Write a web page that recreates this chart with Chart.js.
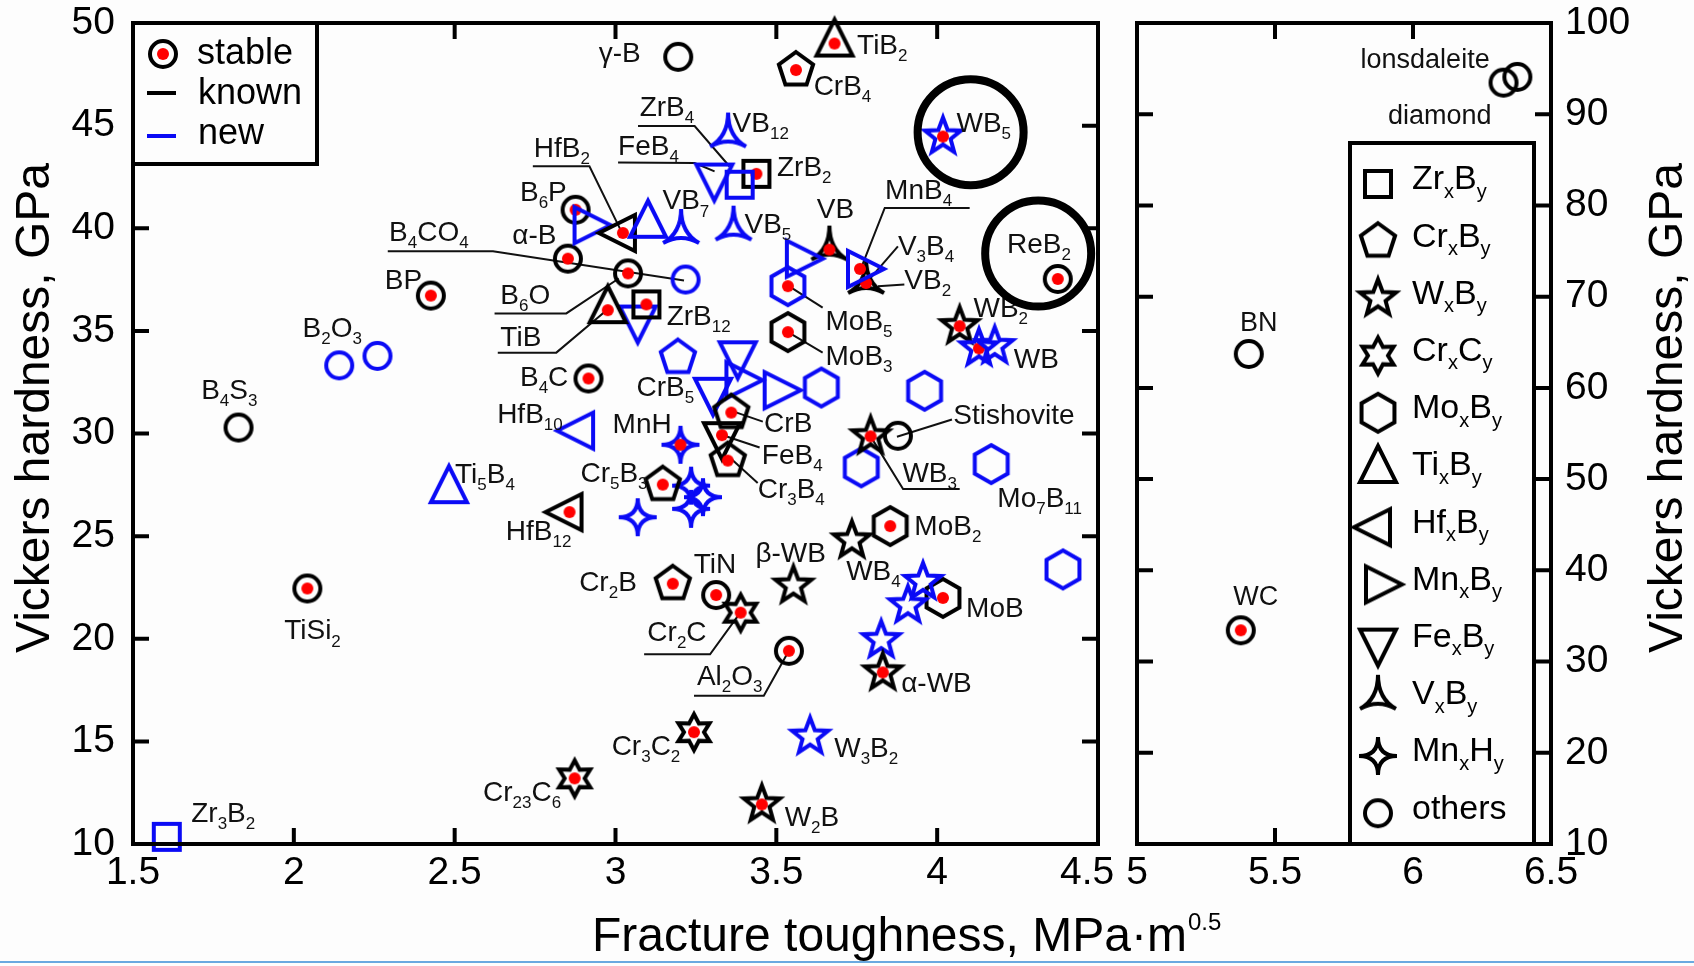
<!DOCTYPE html>
<html>
<head>
<meta charset="utf-8">
<title>Vickers hardness vs fracture toughness</title>
<script src="https://cdn.jsdelivr.net/npm/chart.js@4.4.1/dist/chart.umd.min.js"></script>
<style>
  html, body { margin: 0; background: #fdfdfd; }
  #wrap { position: relative; width: 1694px; height: 966px; overflow: hidden; }
  #wrap canvas { position: absolute; left: 0; top: 0; }
  #edge { position: absolute; left: 0; width: 1694px; top: 961px; height: 2px; background: #6aa9e0; }
</style>
</head>
<body>
<div id="wrap">
  <canvas id="panelLeft" width="1694" height="966"></canvas>
  <canvas id="panelRight" width="1694" height="966"></canvas>
  <div id="edge"></div>
</div>
<script>
const FONT = '"Liberation Sans", Arial, Helvetica, sans-serif';
const BLACK = '#000000';
const BLUE = '#0a0af5';
const RED = '#ff0000';
const BG = '#fdfdfd';

// [name, fracture toughness (MPa·m^0.5), Vickers hardness (GPa), new?, stable?]
const zrB = [
  ['ZrB2', 3.438, 42.65, 0, 1],
  ['ZrB4', 3.386, 42.12, 1, 0],
  ['ZrB12', 3.096, 36.29, 0, 1],
  ['Zr3B2', 1.605, 10.35, 1, 0],
];
const crB = [
  ['CrB4', 3.561, 47.71, 0, 1],
  ['CrB5', 3.194, 33.70, 1, 0],
  ['CrB', 3.360, 31.02, 0, 1],
  ['Cr3B4', 3.349, 28.68, 0, 1],
  ['Cr5B3', 3.147, 27.51, 0, 1],
  ['Cr2B', 3.178, 22.68, 0, 1],
];
const wB = [
  ['WB5', 4.018, 44.47, 1, 1],
  ['WB2', 4.070, 35.23, 0, 1],
  ['WB', 4.130, 34.15, 1, 1],
  ['', 4.179, 34.26, 1, 0],
  ['WB3', 3.793, 29.86, 0, 1],
  ['WB4', 3.735, 24.79, 0, 0],
  ['β-WB', 3.553, 22.59, 0, 0],
  ['', 3.956, 22.77, 1, 0],
  ['', 3.909, 21.63, 1, 0],
  ['', 3.826, 19.93, 1, 0],
  ['α-WB', 3.831, 18.36, 0, 1],
  ['W3B2', 3.605, 15.23, 1, 0],
  ['W2B', 3.455, 11.93, 0, 1],
];
const crC = [
  ['Cr2C', 3.389, 21.27, 0, 1],
  ['Cr3C2', 3.244, 15.45, 0, 1],
  ['Cr23C6', 2.873, 13.20, 0, 1],
];
const moB = [
  ['MoB5', 3.536, 37.18, 1, 1],
  ['MoB3', 3.536, 34.94, 0, 1],
  ['', 3.640, 32.24, 1, 0],
  ['', 3.961, 32.08, 1, 0],
  ['', 3.764, 28.35, 1, 0],
  ['Mo7B11', 4.168, 28.51, 1, 0],
  ['MoB2', 3.854, 25.49, 0, 1],
  ['MoB', 4.018, 21.99, 0, 1],
  ['', 4.391, 23.38, 1, 0],
];
const tiB = [
  ['TiB2', 3.681, 49.00, 0, 1],
  ['', 3.101, 40.17, 1, 0],
  ['TiB', 2.976, 36.01, 0, 1],
  ['Ti5B4', 2.482, 27.24, 1, 0],
];
const hfB = [
  ['HfB2', 3.023, 39.77, 0, 1],
  ['HfB10', 2.893, 30.14, 1, 0],
  ['HfB12', 2.857, 26.17, 0, 1],
];
const mnB = [
  ['', 2.910, 40.15, 1, 0],
  ['', 3.570, 38.52, 1, 0],
  ['MnB4', 3.760, 38.02, 1, 1],
  ['', 3.382, 32.60, 1, 0],
  ['', 3.501, 32.11, 1, 0],
];
const feB = [
  ['FeB4', 3.307, 42.52, 1, 0],
  ['', 3.069, 35.60, 1, 0],
  ['', 3.380, 33.86, 1, 0],
  ['', 3.303, 32.08, 1, 0],
  ['FeB4', 3.331, 29.92, 0, 1],
];
const vB = [
  ['VB12', 3.350, 44.47, 1, 0],
  ['VB7', 3.204, 39.77, 1, 0],
  ['VB5', 3.367, 39.93, 1, 0],
  ['VB', 3.665, 38.96, 0, 1],
  ['V3B4', 3.779, 37.33, 0, 1],
];
const mnH = [
  ['MnH', 3.202, 29.45, 1, 1],
  ['', 3.235, 27.46, 1, 0],
  ['', 3.272, 26.90, 1, 0],
  ['', 3.235, 26.33, 1, 0],
  ['', 3.069, 25.92, 1, 0],
];
const others = [
  ['γ-B', 3.195, 48.35, 0, 0],
  ['B6P', 2.876, 40.90, 0, 1],
  ['α-B', 2.852, 38.52, 0, 1],
  ['B6O', 3.039, 37.80, 0, 1],
  ['B4CO4', 3.218, 37.50, 1, 0],
  ['BP', 2.426, 36.72, 0, 1],
  ['B2O3', 2.141, 33.32, 1, 0],
  ['B2O3', 2.260, 33.78, 1, 0],
  ['B4S3', 1.828, 30.29, 0, 0],
  ['B4C', 2.916, 32.68, 0, 1],
  ['TiSi2', 2.042, 22.45, 0, 1],
  ['TiN', 3.313, 22.13, 0, 1],
  ['Al2O3', 3.539, 19.41, 0, 1],
  ['Stishovite', 3.878, 29.89, 0, 0],
  ['ReB2', 4.375, 37.53, 0, 1],
];
// superhard materials, right panel
const superhard = [
  ['diamond', 6.328, 93.46, 0, 0],
  ['lonsdaleite', 6.378, 94.09, 0, 0],
  ['BN', 5.405, 63.72, 0, 0],
  ['WC', 5.376, 33.43, 0, 1],
];

const families = [
  ['Zr_xB_y', 'square', zrB],
  ['Cr_xB_y', 'pentagon', crB],
  ['W_xB_y', 'star5', wB],
  ['Cr_xC_y', 'star6', crC],
  ['Mo_xB_y', 'hexagon', moB],
  ['Ti_xB_y', 'triUp', tiB],
  ['Hf_xB_y', 'triLeft', hfB],
  ['Mn_xB_y', 'triRight', mnB],
  ['Fe_xB_y', 'triDown', feB],
  ['V_xB_y', 'triStar', vB],
  ['Mn_xH_y', 'star4', mnH],
  ['others', 'circle', others],
];

// text annotations: [text, x, y] in axis units, "_" marks a subscript
const labelsLeft = [
  ['γ-B', 2.948, 48.48], ['TiB_2', 3.751, 48.85], ['CrB_4', 3.616, 46.85],
  ['WB_5', 4.060, 45.07], ['ZrB_4', 3.075, 45.85], ['VB_12', 3.364, 45.07],
  ['FeB_4', 3.008, 43.96], ['ZrB_2', 3.502, 42.91], ['HfB_2', 2.746, 43.86],
  ['B_6P', 2.703, 41.71], ['VB_7', 3.146, 41.29], ['VB_5', 3.401, 40.13],
  ['B_4CO_4', 2.296, 39.76], ['α-B', 2.679, 39.61], ['VB', 3.626, 40.87],
  ['MnB_4', 3.838, 41.81], ['V_3B_4', 3.878, 39.08], ['VB_2', 3.898, 37.40],
  ['ReB_2', 4.217, 39.19], ['BP', 2.283, 37.40], ['B_6O', 2.642, 36.67],
  ['TiB', 2.642, 34.62], ['ZrB_12', 3.159, 35.67], ['MoB_5', 3.653, 35.41],
  ['MoB_3', 3.653, 33.73], ['WB_2', 4.113, 36.04], ['WB', 4.238, 33.57],
  ['B_2O_3', 2.027, 35.09], ['CrB_5', 3.065, 32.20], ['B_4C', 2.703, 32.68],
  ['B_4S_3', 1.712, 32.05], ['HfB_10', 2.632, 30.89], ['MnH', 2.991, 30.42],
  ['CrB', 3.462, 30.47], ['FeB_4', 3.455, 28.90], ['Cr_3B_4', 3.442, 27.22],
  ['Stishovite', 4.050, 30.84], ['WB_3', 3.892, 28.00], ['Mo_7B_11', 4.187, 26.80],
  ['Ti_5B_4', 2.501, 27.95], ['Cr_5B_3', 2.891, 28.00], ['HfB_12', 2.659, 25.17],
  ['MoB_2', 3.929, 25.43], ['WB_4', 3.717, 23.23], ['β-WB', 3.435, 24.12],
  ['TiN', 3.243, 23.60], ['Cr_2B', 2.887, 22.70], ['MoB', 4.090, 21.44],
  ['TiSi_2', 1.970, 20.34], ['Cr_2C', 3.099, 20.29], ['Al_2O_3', 3.253, 18.14],
  ['α-WB', 3.888, 17.77], ['Cr_3C_2', 2.988, 14.72], ['W_3B_2', 3.680, 14.62],
  ['Cr_23C_6', 2.588, 12.47], ['W_2B', 3.526, 11.26], ['Zr_3B_2', 1.681, 11.47],
];
const labelsRight = [
  ['lonsdaleite', 5.810, 95.92], ['diamond', 5.909, 89.71],
  ['BN', 5.373, 67.09], ['WC', 5.349, 36.97],
];
// leader lines as polylines in axis units
const leadersLeft = [
  [3.070, 44.98, 3.246, 44.98, 3.354, 43.02],
  [3.008, 43.20, 3.246, 43.18, 3.308, 42.77],
  [2.743, 43.02, 2.919, 43.02, 3.018, 39.85],
  [2.292, 38.88, 2.619, 38.88, 3.213, 37.45],
  [4.101, 40.99, 3.837, 40.99, 3.761, 37.96],
  [3.878, 39.12, 3.779, 37.33],
  [3.898, 37.26, 3.816, 37.18],
  [2.624, 35.85, 2.847, 35.85, 3.010, 37.55],
  [2.634, 33.94, 2.816, 33.94, 2.976, 36.05],
  [3.539, 37.18, 3.644, 36.13],
  [3.539, 34.91, 3.644, 33.94],
  [3.361, 31.10, 3.458, 30.58],
  [3.327, 29.95, 3.448, 29.32],
  [3.361, 28.74, 3.442, 27.59],
  [3.875, 29.84, 4.046, 30.68],
  [3.795, 29.81, 3.894, 27.30, 4.070, 27.30],
  [3.089, 19.24, 3.294, 19.24, 3.388, 21.27],
  [3.244, 17.22, 3.461, 17.22, 3.539, 19.41],
];
// emphasis rings around WB5 and ReB2: [x, y]
const rings = [[4.104, 44.68], [4.314, 38.77]];

const TICK = 16;

function poly(g, n, r, rot) {
  for (let i = 0; i < n; i++) {
    const a = (rot + i * 360 / n) * Math.PI / 180;
    if (i) g.lineTo(r * Math.cos(a), r * Math.sin(a));
    else g.moveTo(r * Math.cos(a), r * Math.sin(a));
  }
  g.closePath();
}

function star(g, n, r1, r2) {
  for (let i = 0; i < 2 * n; i++) {
    const a = (-90 + i * 180 / n) * Math.PI / 180;
    const r = i % 2 ? r2 : r1;
    if (i) g.lineTo(r * Math.cos(a), r * Math.sin(a));
    else g.moveTo(r * Math.cos(a), r * Math.sin(a));
  }
  g.closePath();
}

// closed outline through the tips, sides bent in toward the centre
function cusp(g, pts, k) {
  g.moveTo(pts[0][0], pts[0][1]);
  for (let i = 1; i <= pts.length; i++) {
    const p = pts[i % pts.length], q = pts[i - 1];
    g.quadraticCurveTo((p[0] + q[0]) * k, (p[1] + q[1]) * k, p[0], p[1]);
  }
  g.closePath();
}

function shapePath(g, shape) {
  g.beginPath();
  switch (shape) {
    case 'square': g.rect(-13, -13, 26, 26); break;
    case 'circle': g.arc(0, 0, 13, 0, Math.PI * 2); break;
    case 'pentagon': poly(g, 5, 18, -90); break;
    case 'hexagon': poly(g, 6, 19, -90); break;
    case 'star5': star(g, 5, 19, 8); break;
    case 'star6': star(g, 6, 18, 10); break;
    case 'triUp': g.moveTo(0, -24); g.lineTo(18, 12); g.lineTo(-18, 12); g.closePath(); break;
    case 'triDown': g.moveTo(0, 24); g.lineTo(18, -12); g.lineTo(-18, -12); g.closePath(); break;
    case 'triLeft': g.moveTo(-24, 0); g.lineTo(12, -18); g.lineTo(12, 18); g.closePath(); break;
    case 'triRight': g.moveTo(24, 0); g.lineTo(-12, -18); g.lineTo(-12, 18); g.closePath(); break;
    case 'triStar': cusp(g, [[0, -24], [18, 10], [-18, 10]], 0); break;
    case 'star4': cusp(g, [[0, -19], [19, 0], [0, 19], [-19, 0]], 0); break;
  }
}

const markerCache = {};
function marker(shape, color, stable) {
  const key = shape + color + stable;
  if (markerCache[key]) return markerCache[key];
  const c = document.createElement('canvas');
  c.width = 64; c.height = 64;
  const g = c.getContext('2d');
  g.translate(32, 32);
  g.lineWidth = 4;
  g.strokeStyle = color;
  shapePath(g, shape);
  g.stroke();
  if (stable) {
    g.beginPath();
    g.arc(0, 0, 6, 0, Math.PI * 2);
    g.fillStyle = RED;
    g.fill();
  }
  markerCache[key] = c;
  return c;
}

function toDataset(shape, pts) {
  return {
    data: pts.map(p => ({ x: p[1], y: p[2] })),
    pointStyle: pts.map(p => marker(shape, p[3] ? BLUE : BLACK, p[4])),
    pointRadius: 14,
    clip: false,
  };
}

function parts(str) {
  const out = [];
  const re = /_(\d+|[a-z])/g;
  let last = 0, m;
  while ((m = re.exec(str))) {
    if (m.index > last) out.push([str.slice(last, m.index), false]);
    out.push([m[1], true]);
    last = re.lastIndex;
  }
  if (last < str.length) out.push([str.slice(last), false]);
  return out;
}

function richText(ctx, str, x, y, size) {
  ctx.textAlign = 'left';
  ctx.textBaseline = 'middle';
  let cx = x;
  for (const [t, sub] of parts(str)) {
    ctx.font = (sub ? Math.round(size * 0.6) : size) + 'px ' + FONT;
    ctx.fillText(t, cx, sub ? y + size * 0.36 : y);
    cx += ctx.measureText(t).width;
  }
}

function drawFrame(chart) {
  const { ctx, chartArea: a } = chart;
  const xs = chart.scales.x, ys = chart.scales.y;
  ctx.save();
  ctx.strokeStyle = BLACK;
  ctx.lineWidth = 4;
  ctx.beginPath();
  xs.ticks.forEach(t => {
    const p = xs.getPixelForValue(t.value);
    ctx.moveTo(p, a.bottom); ctx.lineTo(p, a.bottom - TICK);
    ctx.moveTo(p, a.top); ctx.lineTo(p, a.top + TICK);
  });
  ys.ticks.forEach(t => {
    const p = ys.getPixelForValue(t.value);
    ctx.moveTo(a.left, p); ctx.lineTo(a.left + TICK, p);
    ctx.moveTo(a.right, p); ctx.lineTo(a.right - TICK, p);
  });
  ctx.stroke();
  ctx.strokeRect(a.left, a.top, a.right - a.left, a.bottom - a.top);
  ctx.restore();
}

function drawLeaders(chart, list) {
  const { ctx } = chart;
  const xs = chart.scales.x, ys = chart.scales.y;
  ctx.save();
  ctx.strokeStyle = '#111';
  ctx.lineWidth = 2;
  list.forEach(l => {
    ctx.beginPath();
    for (let i = 0; i < l.length; i += 2) {
      const px = xs.getPixelForValue(l[i]), py = ys.getPixelForValue(l[i + 1]);
      if (i) ctx.lineTo(px, py); else ctx.moveTo(px, py);
    }
    ctx.stroke();
  });
  ctx.restore();
}

function drawLabels(chart, list, size) {
  const { ctx } = chart;
  const xs = chart.scales.x, ys = chart.scales.y;
  ctx.save();
  ctx.fillStyle = '#111';
  list.forEach(l => richText(ctx, l[0], xs.getPixelForValue(l[1]), ys.getPixelForValue(l[2]), size));
  ctx.restore();
}

const titleY = 'Vickers hardness, GPa';

function drawYTitle(ctx, x, y) {
  ctx.save();
  ctx.translate(x, y);
  ctx.rotate(-Math.PI / 2);
  ctx.fillStyle = BLACK;
  ctx.font = '48px ' + FONT;
  ctx.textAlign = 'center';
  ctx.textBaseline = 'middle';
  ctx.fillText(titleY, 0, 0);
  ctx.restore();
}

const leftDecor = {
  id: 'leftDecor',
  beforeDatasetsDraw(chart) {
    drawLeaders(chart, leadersLeft);
  },
  afterDraw(chart) {
    const { ctx, chartArea: a } = chart;
    const xs = chart.scales.x, ys = chart.scales.y;
    drawFrame(chart);
    drawLabels(chart, labelsLeft, 28);

    ctx.save();
    ctx.strokeStyle = BLACK;
    ctx.lineWidth = 8;
    rings.forEach(r => {
      ctx.beginPath();
      ctx.arc(xs.getPixelForValue(r[0]), ys.getPixelForValue(r[1]), 53, 0, Math.PI * 2);
      ctx.stroke();
    });
    ctx.restore();

    // stable / known / new legend
    ctx.save();
    const bw = 184, bh = 141;
    ctx.fillStyle = BG;
    ctx.fillRect(a.left, a.top, bw, bh);
    ctx.strokeStyle = BLACK;
    ctx.lineWidth = 4;
    ctx.strokeRect(a.left, a.top, bw, bh);
    ctx.drawImage(marker('circle', BLACK, 1), a.left + 30 - 32, a.top + 31 - 32);
    ctx.beginPath(); ctx.moveTo(a.left + 14, a.top + 70); ctx.lineTo(a.left + 43, a.top + 70); ctx.stroke();
    ctx.strokeStyle = BLUE;
    ctx.beginPath(); ctx.moveTo(a.left + 14, a.top + 113); ctx.lineTo(a.left + 43, a.top + 113); ctx.stroke();
    ctx.fillStyle = BLACK;
    ctx.font = '36px ' + FONT;
    ctx.textAlign = 'left';
    ctx.textBaseline = 'middle';
    ctx.fillText('stable', a.left + 64, a.top + 31);
    ctx.fillText('known', a.left + 65, a.top + 71);
    ctx.fillText('new', a.left + 65, a.top + 111);
    ctx.restore();

    drawYTitle(ctx, 36, 408);

    // x axis title with superscript
    ctx.save();
    ctx.fillStyle = BLACK;
    ctx.textAlign = 'left';
    ctx.textBaseline = 'alphabetic';
    ctx.font = '48px ' + FONT;
    const main = 'Fracture toughness, MPa·m';
    ctx.fillText(main, 592, 951);
    const w = ctx.measureText(main).width;
    ctx.font = '24px ' + FONT;
    ctx.fillText('0.5', 592 + w + 1, 930);
    ctx.restore();
  },
};

const rightDecor = {
  id: 'rightDecor',
  afterDraw(chart) {
    const { ctx, chartArea: a } = chart;
    drawFrame(chart);
    drawLabels(chart, labelsRight, 27);

    // marker-shape legend
    ctx.save();
    const bx = a.left + 213, by = a.top + 120, bw = 184;
    ctx.fillStyle = BG;
    ctx.fillRect(bx, by, bw, a.bottom - by);
    ctx.strokeStyle = BLACK;
    ctx.lineWidth = 4;
    ctx.strokeRect(bx, by, bw, a.bottom - by);
    ctx.fillStyle = BLACK;
    families.forEach((f, i) => {
      const cy = by + 41 + i * 57.2;
      ctx.drawImage(marker(f[1], BLACK, 0), bx + 28 - 32, cy - 32);
      richText(ctx, f[0], bx + 62, cy - 4, 34);
    });
    ctx.restore();

    drawYTitle(ctx, 1669, 408);
  },
};

const tickFont = { size: 39, family: FONT };
// the last left-panel label sits a little left of its tick in the original
const fmtX = v => (v === 4.5 ? '4.5  ' : String(v));
const fmt = v => String(v);
const noPadX = s => { s.height = 122; s.paddingLeft = 0; s.paddingRight = 0; };

new Chart(document.getElementById('panelLeft'), {
  type: 'scatter',
  data: { datasets: families.map(f => toDataset(f[1], f[2])) },
  options: {
    responsive: false,
    animation: false,
    events: [],
    layout: { padding: { left: 0, top: 23, right: 596, bottom: 0 } },
    plugins: { legend: { display: false }, tooltip: { enabled: false } },
    scales: {
      x: {
        type: 'linear', min: 1.5, max: 4.5,
        ticks: { stepSize: 0.5, color: BLACK, font: tickFont, padding: -2, callback: fmtX, autoSkip: false, maxRotation: 0 },
        grid: { display: false }, border: { display: false },
        afterFit: noPadX,
      },
      y: {
        type: 'linear', min: 10, max: 50,
        ticks: { stepSize: 5, color: BLACK, font: tickFont, padding: 10, callback: fmt },
        grid: { display: false }, border: { display: false },
        afterFit: s => { s.width = 133; s.paddingTop = 0; s.paddingBottom = 0; },
      },
    },
  },
  plugins: [leftDecor],
});

new Chart(document.getElementById('panelRight'), {
  type: 'scatter',
  data: { datasets: [toDataset('circle', superhard)] },
  options: {
    responsive: false,
    animation: false,
    events: [],
    layout: { padding: { left: 1137, top: 23, right: 0, bottom: 0 } },
    plugins: { legend: { display: false }, tooltip: { enabled: false } },
    scales: {
      x: {
        type: 'linear', min: 5, max: 6.5,
        ticks: { stepSize: 0.5, color: BLACK, font: tickFont, padding: -2, callback: fmt, autoSkip: false, maxRotation: 0 },
        grid: { display: false }, border: { display: false },
        afterFit: noPadX,
      },
      y: {
        type: 'linear', position: 'right', min: 10, max: 100,
        ticks: { stepSize: 10, color: BLACK, font: tickFont, padding: 6, callback: fmt },
        grid: { display: false }, border: { display: false },
        afterFit: s => { s.width = 143; s.paddingTop = 0; s.paddingBottom = 0; },
      },
    },
  },
  plugins: [rightDecor],
});
</script>
</body>
</html>
